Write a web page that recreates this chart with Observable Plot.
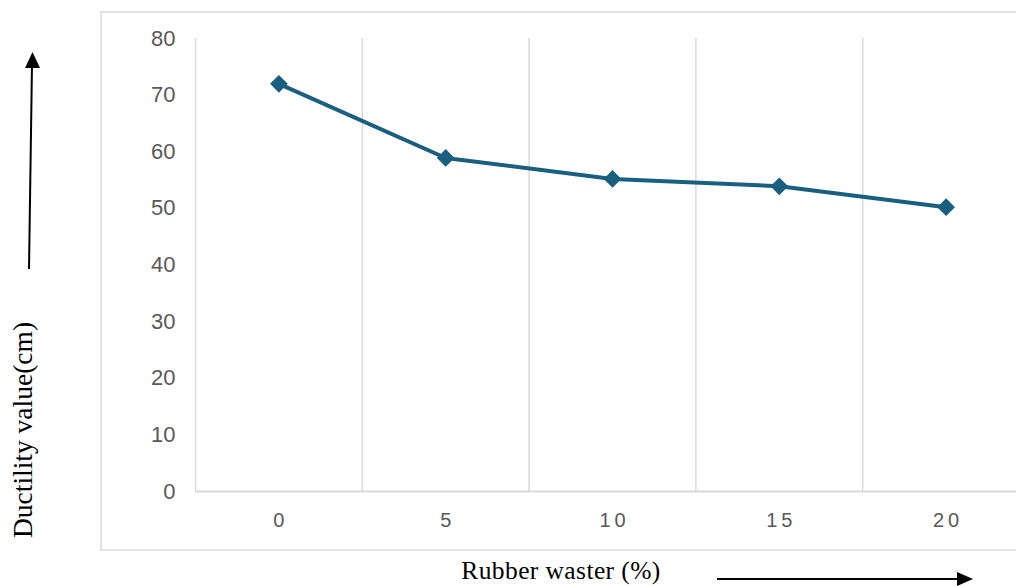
<!DOCTYPE html>
<html>
<head>
<meta charset="utf-8">
<script src="https://cdn.jsdelivr.net/npm/d3@7"></script>
<script src="https://cdn.jsdelivr.net/npm/@observablehq/plot@0.6"></script>
<style>
  html, body { margin: 0; padding: 0; background: #fff; overflow: hidden; }
  #chart { position: relative; width: 1016px; height: 586px; overflow: hidden; }
  #chart svg { max-width: none !important; }
</style>
</head>
<body>
<div id="chart"></div>
<script>
// Rubber waste content (%) and measured ductility (cm)
const rubberPct = [0, 5, 10, 15, 20];
const ductility = [72, 58.9, 55.2, 53.9, 50.2];
const yTicks = [0, 10, 20, 30, 40, 50, 60, 70, 80];
const yTitle = "Ductility value(cm)";
const xTitle = "Rubber waster (%)";

const lineColor = "#1a5f80";
const gridColor = "#d9d9d9";

const data = rubberPct.map((p, i) => ({ p, v: ductility[i] }));

// Category cells: each value sits in the middle of its own cell, grid lines on the cell edges
const step = rubberPct[1] - rubberPct[0];
const cellEdges = [...rubberPct.map(p => p - step / 2), rubberPct[rubberPct.length - 1] + step / 2];

const chart = Plot.plot({
  width: 1046,
  height: 586,
  marginTop: 38,
  marginBottom: 95,
  marginLeft: 195,
  marginRight: 17,
  style: {
    fontFamily: "'Liberation Sans', Arial, sans-serif",
    color: "#595959",
    background: "transparent",
    overflow: "visible",
    maxWidth: "none"
  },
  x: { domain: [cellEdges[0], cellEdges[cellEdges.length - 1]] },
  y: { domain: [yTicks[0], yTicks[yTicks.length - 1]] },
  marks: [
    Plot.ruleX(cellEdges, { y1: yTicks[0], y2: yTicks[yTicks.length - 1], stroke: gridColor, strokeWidth: 1.5 }),
    Plot.ruleY([0], { stroke: gridColor, strokeWidth: 2 }),
    Plot.axisY(yTicks, { tickSize: 0, tickPadding: 20, fontSize: 22, fill: "#595959", label: null }),
    Plot.axisX(rubberPct, { tickSize: 0, tickPadding: 21, fontSize: 20, fill: "#595959", label: null }),
    Plot.line(data, { x: "p", y: "v", stroke: lineColor, strokeWidth: 4 }),
    Plot.dot(data, { x: "p", y: "v", symbol: "diamond2", r: 8, fill: lineColor, stroke: "none" })
  ]
});

document.getElementById("chart").appendChild(chart);

const svg = d3.select(chart);

// Widely spaced x tick digits
svg.selectAll('g[aria-label="x-axis tick label"] text')
  .style("letter-spacing", "4px")
  .attr("dx", 2);

// Chart area border
svg.insert("rect", ":first-child")
  .attr("x", 101).attr("y", 12)
  .attr("width", 1000).attr("height", 538)
  .attr("fill", "none")
  .attr("stroke", gridColor)
  .attr("stroke-width", 1.5);

const deco = svg.append("g");

// Axis titles
deco.append("text")
  .attr("transform", "translate(32,430) rotate(-90)")
  .attr("text-anchor", "middle")
  .attr("font-family", "'Liberation Serif', 'Times New Roman', serif")
  .attr("font-size", 27.5)
  .attr("fill", "#000")
  .text(yTitle);

deco.append("text")
  .attr("x", 561).attr("y", 579)
  .attr("text-anchor", "middle")
  .attr("font-family", "'Liberation Serif', 'Times New Roman', serif")
  .attr("font-size", 25.5)
  .style("letter-spacing", "0.4px")
  .attr("fill", "#000")
  .text(xTitle);

// Direction arrows beside the axis titles
deco.append("line")
  .attr("x1", 29).attr("y1", 269).attr("x2", 32).attr("y2", 64)
  .attr("stroke", "#000").attr("stroke-width", 2);
deco.append("polygon")
  .attr("points", "32.5,52 25,68 40,68")
  .attr("fill", "#000");

deco.append("line")
  .attr("x1", 717).attr("y1", 579).attr("x2", 960).attr("y2", 579)
  .attr("stroke", "#000").attr("stroke-width", 2);
deco.append("polygon")
  .attr("points", "973,579 957,572 957,586")
  .attr("fill", "#000");
</script>
</body>
</html>
